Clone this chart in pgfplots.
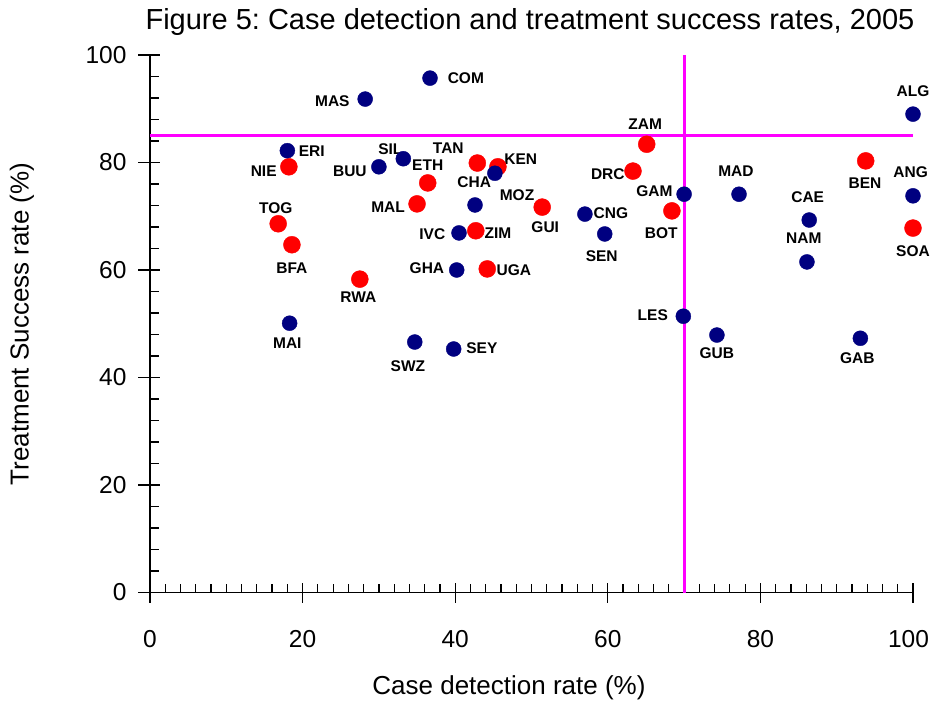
\documentclass[border=0pt]{standalone}
\usepackage{fontspec}
\setmainfont{Liberation Sans}
\usepackage{pgfplots}
\usepackage{pgfplotstable}
\pgfplotsset{compat=1.18}
\frenchspacing
\definecolor{dotblue}{HTML}{000080}
\definecolor{dotred}{HTML}{FF0000}
\definecolor{linemag}{HTML}{FF00FF}

\pgfplotstableread{
x y
36.7 95.7
28.2 91.8
100.0 89.0
18.0 82.2
30.0 79.2
33.2 80.7
45.2 78.0
42.6 72.1
40.5 66.9
40.2 60.0
18.3 50.1
34.7 46.6
39.8 45.3
70.0 74.1
77.2 74.1
57.0 70.4
59.6 66.7
69.9 51.4
74.3 47.9
100.0 73.8
86.4 69.3
86.1 61.5
93.1 47.3
}\bluedata

\pgfplotstableread{
x y
18.2 79.2
42.9 79.9
45.6 79.2
36.4 76.2
35.0 72.3
16.8 68.6
51.4 71.7
42.7 67.3
18.6 64.7
44.2 60.2
27.5 58.3
65.1 83.4
63.3 78.4
68.4 71.0
93.8 80.3
100.0 67.8
}\reddata

\begin{document}
\begin{tikzpicture}[labnode/.style={font=\fontsize{15.5}{15.5}\selectfont\bfseries, inner sep=0pt, anchor=center}]
\path[use as bounding box] (-150pt,-112.5pt) rectangle (780pt,592.5pt);
\begin{axis}[
  at={(0pt,0pt)}, anchor=south west,
  scale only axis, width=763pt, height=537.5pt,
  xmin=0, xmax=100, ymin=0, ymax=100,
  axis x line=bottom, axis y line=left,
  axis line style={-, line width=1.3pt, black},
  xtick={0,20,...,100}, ytick={0,20,...,100},
  minor x tick num=9, minor y tick num=4,
  tick align=inside,
  major tick length=10pt, minor tick length=9pt,
  tick style={black, line width=1.2pt},
  extra x ticks={0,20,...,100}, extra x tick labels={},
  extra x tick style={tick align=outside, major tick length=10pt},
  extra y ticks={0,20,...,100}, extra y tick labels={},
  extra y tick style={tick align=outside, major tick length=12pt},
  /pgf/number format/assume math mode=true,
  ticklabel style={font=\fontsize{24.5}{24.5}\selectfont},
  xticklabel={\ifdim\tick pt>99pt\relax\kern-9pt\fi\pgfmathprintnumber{\tick}},
  xticklabel style={yshift=-34pt},
  yticklabel style={xshift=-20pt},
  clip=false,
]
\addplot[linemag, line width=3pt] coordinates {(0,85) (100,85)};
\addplot[linemag, line width=3pt] coordinates {(70,0) (70,100)};
\addplot[only marks, mark=*, mark size=8.5pt, mark options={draw=dotred, fill=dotred}] table[x=x,y=y] {\reddata};
\addplot[only marks, mark=*, mark size=7.5pt, mark options={draw=dotblue, fill=dotblue}] table[x=x,y=y] {\bluedata};

\node[labnode] at (axis cs:41.4,95.7) {COM};
\node[labnode] at (axis cs:23.9,91.4) {MAS};
\node[labnode] at (axis cs:100.0,93.3) {ALG};
\node[labnode] at (axis cs:21.2,82.1) {ERI};
\node[labnode] at (axis cs:14.9,78.4) {NIE};
\node[labnode] at (axis cs:31.5,82.5) {SIL};
\node[labnode] at (axis cs:26.2,78.4) {BUU};
\node[labnode] at (axis cs:39.1,82.7) {TAN};
\node[labnode] at (axis cs:48.6,80.7) {KEN};
\node[labnode] at (axis cs:36.4,79.5) {ETH};
\node[labnode] at (axis cs:42.5,76.3) {CHA};
\node[labnode] at (axis cs:48.1,74.0) {MOZ};
\node[labnode] at (axis cs:16.5,71.5) {TOG};
\node[labnode] at (axis cs:31.2,71.7) {MAL};
\node[labnode] at (axis cs:37.0,66.7) {IVC};
\node[labnode] at (axis cs:45.6,66.9) {ZIM};
\node[labnode] at (axis cs:51.8,68.0) {GUI};
\node[labnode] at (axis cs:18.6,60.4) {BFA};
\node[labnode] at (axis cs:36.3,60.4) {GHA};
\node[labnode] at (axis cs:47.7,60.0) {UGA};
\node[labnode] at (axis cs:27.3,55.0) {RWA};
\node[labnode] at (axis cs:18.0,46.4) {MAI};
\node[labnode] at (axis cs:33.8,42.1) {SWZ};
\node[labnode] at (axis cs:43.5,45.5) {SEY};
\node[labnode] at (axis cs:64.9,87.2) {ZAM};
\node[labnode] at (axis cs:60.0,77.9) {DRC};
\node[labnode] at (axis cs:66.1,74.6) {GAM};
\node[labnode] at (axis cs:76.8,78.4) {MAD};
\node[labnode] at (axis cs:60.4,70.6) {CNG};
\node[labnode] at (axis cs:67.0,66.9) {BOT};
\node[labnode] at (axis cs:59.2,62.6) {SEN};
\node[labnode] at (axis cs:65.9,51.6) {LES};
\node[labnode] at (axis cs:74.3,44.6) {GUB};
\node[labnode] at (axis cs:93.7,76.2) {BEN};
\node[labnode] at (axis cs:99.7,78.2) {ANG};
\node[labnode] at (axis cs:86.2,73.6) {CAE};
\node[labnode] at (axis cs:85.7,66.0) {NAM};
\node[labnode] at (axis cs:100.0,63.5) {SOA};
\node[labnode] at (axis cs:92.7,43.6) {GAB};
\end{axis}
\node[font=\fontsize{29}{29}\selectfont, inner sep=0pt] at (380pt,570.5pt) {Figure 5: Case detection and treatment success rates, 2005};
\node[font=\fontsize{26}{26}\selectfont, inner sep=0pt] at (359pt,-95.5pt) {Case detection rate (\%)};
\node[font=\fontsize{26}{26}\selectfont, inner sep=0pt, rotate=90] at (-128pt,268.5pt) {Treatment Success rate (\%)};
\end{tikzpicture}
\end{document}
